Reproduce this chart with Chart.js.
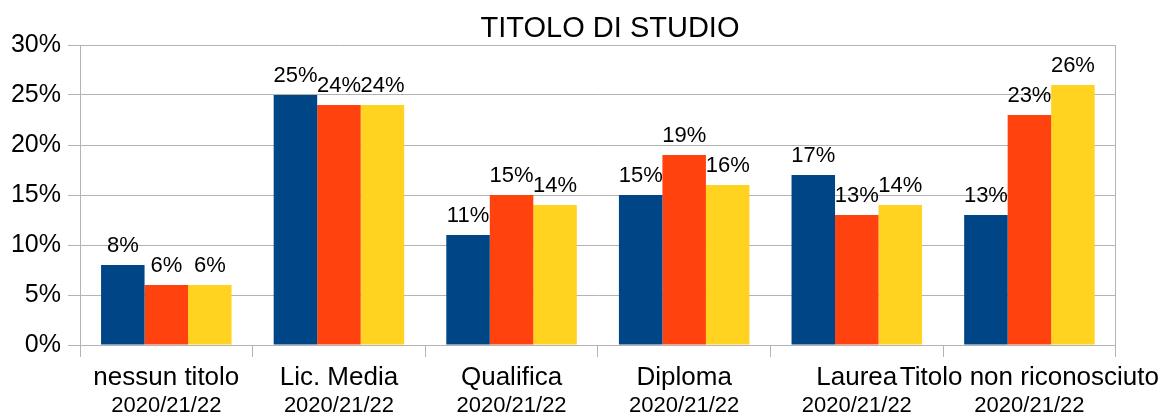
<!DOCTYPE html>
<html>
<head>
<meta charset="utf-8">
<script src="https://cdn.jsdelivr.net/npm/chart.js@4/dist/chart.umd.min.js"></script>
<style>
  html, body { margin: 0; padding: 0; background: #fff; }
  #wrap { width: 1168px; height: 412px; }
</style>
</head>
<body>
<div id="wrap"><canvas id="chart" width="1168" height="412"></canvas></div>
<script>
// dati
const categories = ['nessun titolo', 'Lic. Media', 'Qualifica', 'Diploma', 'Laurea', 'Titolo non riconosciuto'];
const periods = ['2020/21/22', '2020/21/22', '2020/21/22', '2020/21/22', '2020/21/22', '2020/21/22'];
const serie2020 = [8, 25, 11, 15, 17, 13];
const serie2021 = [6, 24, 15, 19, 13, 23];
const serie2022 = [6, 24, 14, 16, 14, 26];
const yTicks = [0, 5, 10, 15, 20, 25, 30];

const GRID = '#b3b3b3';
const FONT = "'Liberation Sans', Arial, sans-serif";

// titolo disegnato a mano (centrato come nell'originale)
const titlePlugin = {
    id: 'titleText',
    afterDraw(chart) {
        const ctx = chart.ctx;
        ctx.save();
        ctx.font = '29px ' + FONT;
        ctx.fillStyle = '#000';
        ctx.textAlign = 'center';
        ctx.textBaseline = 'alphabetic';
        ctx.fillText('TITOLO DI STUDIO', 610, 37);
        ctx.restore();
    }
};

// etichette dei valori sopra le barre
const valueLabels = {
    id: 'valueLabels',
    afterDatasetsDraw(chart) {
        const ctx = chart.ctx;
        ctx.save();
        ctx.font = '22px ' + FONT;
        ctx.fillStyle = '#000';
        ctx.textAlign = 'center';
        ctx.textBaseline = 'alphabetic';
        chart.data.datasets.forEach((ds, i) => {
            const meta = chart.getDatasetMeta(i);
            meta.data.forEach((bar, j) => {
                ctx.fillText(ds.data[j] + '%', bar.x, bar.y - 13);
            });
        });
        ctx.restore();
    }
};

const ctx = document.getElementById('chart');
new Chart(ctx, {
    type: 'bar',
    data: {
        labels: categories,
        datasets: [
            { label: '2020', data: serie2020, backgroundColor: '#004586' },
            { label: '2021', data: serie2021, backgroundColor: '#ff420e' },
            { label: '2022', data: serie2022, backgroundColor: '#ffd320' }
        ]
    },
    options: {
        responsive: false,
        animation: false,
        layout: { padding: { top: 45, left: 0, right: 0, bottom: 0 } },
        datasets: { bar: { barPercentage: 1, categoryPercentage: 0.756 } },
        plugins: {
            legend: { display: false },
            title: { display: false },
            tooltip: { enabled: false }
        },
        scales: {
            x: {
                position: 'bottom',
                offset: true,
                grid: { offset: true, drawOnChartArea: false, color: GRID, tickLength: 12 },
                border: { color: GRID },
                ticks: {
                    color: '#000', font: { family: FONT, size: 26 },
                    padding: 5, maxRotation: 0, minRotation: 0, autoSkip: false
                },
                afterFit(scale) { scale.height = 48; }
            },
            x2: {
                position: 'bottom',
                type: 'category',
                labels: periods,
                offset: true,
                grid: { display: false, drawTicks: false },
                border: { display: false },
                ticks: {
                    color: '#000', font: { family: FONT, size: 22 },
                    padding: 0, maxRotation: 0, minRotation: 0, autoSkip: false
                },
                afterFit(scale) { scale.height = 19; }
            },
            y: {
                min: 0,
                max: 30,
                afterBuildTicks(scale) { scale.ticks = yTicks.map(v => ({ value: v })); },
                grid: { color: GRID, tickLength: 12 },
                border: { color: GRID },
                ticks: {
                    color: '#000', font: { family: FONT, size: 25 }, padding: 7,
                    callback: v => v + '%'
                },
                afterFit(scale) { scale.width = 80; }
            },
            y2: {
                position: 'right',
                min: 0,
                max: 30,
                grid: { drawOnChartArea: false, drawTicks: false },
                border: { color: GRID },
                ticks: { display: false },
                afterFit(scale) { scale.width = 48; }
            }
        }
    },
    plugins: [titlePlugin, valueLabels]
});
</script>
</body>
</html>
